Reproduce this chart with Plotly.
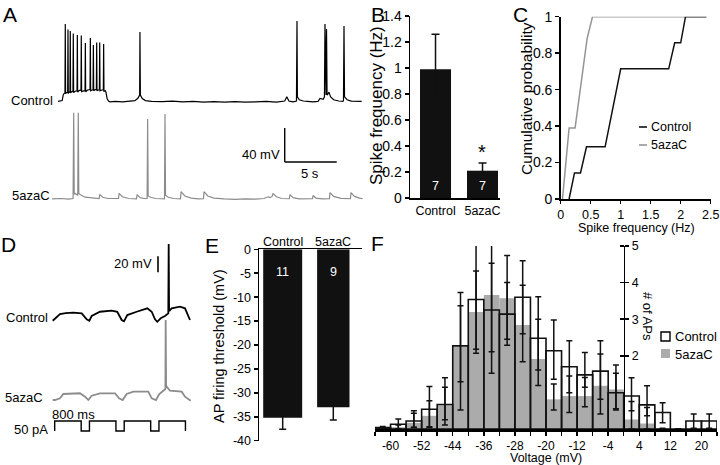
import plotly.graph_objects as go

FONT = "Liberation Sans, Arial, sans-serif"
W, H = 720, 465
GRAY_TRACE = "#8c8c8c"
GRAY_BAR = "#ababab"

# ---------------- Panel A : spontaneous firing traces (time s, membrane potential mV) ----------------
A_CONTROL = [
    (0.00, -65.5), (0.20, -65.0), (0.40, -64.5), (0.52, -57.0), (0.62, -55.6),
    (0.67, -55.6), (0.70, 25.6), (0.73, -56.5), (0.80, -55.0),
    (0.93, -54.8), (0.96, 19.1), (0.99, -56.0), (1.08, -54.5),
    (1.15, -54.4), (1.18, 17.4), (1.21, -55.5), (1.33, -54.0),
    (1.44, -53.8), (1.47, 14.4), (1.50, -55.0), (1.66, -53.5),
    (1.83, -53.0), (1.86, 12.6), (1.89, -54.5), (2.05, -52.5),
    (2.21, -52.5), (2.24, 12.1), (2.27, -54.0), (2.45, -53.0),
    (2.60, -52.8), (2.63, 3.2), (2.66, -54.0), (2.85, -52.0),
    (3.08, -51.5), (3.11, 9.1), (3.14, -53.0), (3.28, -52.0),
    (3.37, -51.8), (3.40, 0.9), (3.43, -53.0), (3.58, -51.5),
    (3.69, -51.5), (3.72, 3.8), (3.75, -53.0), (3.88, -52.0),
    (3.98, -51.5), (4.01, 3.8), (4.04, -53.0), (4.22, -52.0),
    (4.36, -52.0), (4.39, 2.1), (4.42, -53.5), (4.55, -53.0),
    (4.62, -55.0), (4.72, -62.0), (4.85, -65.0), (5.00, -66.0),
    (5.5, -65.5), (6.2, -66.0), (6.8, -65.3), (7.4, -64.5), (7.7, -61.5), (7.85, -58.0),
    (7.88, 16.2), (7.92, -58.0), (8.1, -62.0), (8.4, -64.5), (9.0, -65.3), (10.0, -65.8),
    (11.0, -65.2), (12.0, -66.0), (13.0, -65.5), (14.0, -66.3), (15.0, -65.7), (16.0, -66.2),
    (17.0, -65.8), (18.0, -66.4), (19.0, -66.0), (20.0, -65.5), (21.0, -66.2),
    (21.8, -65.0), (22.0, -60.0), (22.2, -65.0), (22.6, -66.0),
    (22.93, -65.0), (22.98, 29.1), (23.02, -60.0), (23.2, -63.5), (23.6, -65.0), (24.0, -65.5), (24.5, -66.0),
    (25.0, -65.5), (25.2, -62.0), (25.5, -63.0), (25.62, -60.0), (25.67, 25.6), (25.72, -58.0),
    (25.77, -58.0), (25.82, 19.7), (25.87, -58.0), (25.95, -57.0), (26.06, -54.5), (26.2, -60.0),
    (26.5, -63.5), (27.0, -65.0), (27.4, -65.5),
    (27.45, -64.0), (27.5, 23.2), (27.55, -60.0), (27.8, -63.5), (28.2, -65.0), (28.7, -65.5), (29.2, -65.3),
]
A_5AZAC = [
    (-0.58, -65.5), (0.3, -65.0), (1.0, -65.8), (1.45, -65.0), (1.51, 35.9), (1.56, -60.0), (1.62, -59.0),
    (1.9, -61.0), (1.95, 35.9), (2.0, -59.0), (2.2, -61.0), (2.6, -63.5), (3.2, -64.5), (3.95, -65.0),
    (4.04, -60.5), (4.3, -63.5), (4.8, -65.0), (5.4, -65.5), (5.82, -65.0), (5.87, -59.0), (6.2, -63.0),
    (6.8, -65.0), (7.55, -65.5), (7.6, -60.5), (7.9, -64.0), (8.3, -65.0), (8.57, -65.0), (8.62, 28.5),
    (8.67, -62.0), (8.9, -63.5), (9.4, -65.0), (10.24, -65.5), (10.29, 34.4), (10.34, -61.0), (10.6, -63.5),
    (11.1, -65.0), (11.78, -65.5), (11.83, -57.0), (12.2, -62.0), (12.8, -64.5), (13.5, -65.5),
    (13.99, -65.2), (14.04, -57.0), (14.4, -62.0), (15.0, -64.5), (16.0, -65.5), (17.0, -66.0),
    (18.0, -65.5), (19.0, -65.8), (19.8, -65.0), (20.2, -63.0), (20.4, -64.0), (20.62, -62.0),
    (20.67, -59.0), (21.0, -63.0), (21.5, -65.0), (22.25, -65.3), (22.3, -60.5), (22.6, -64.0),
    (23.2, -65.5), (24.0, -65.0), (24.47, -65.3), (24.52, -61.5), (24.8, -64.5), (25.4, -65.5),
    (26.1, -65.2), (26.15, -58.0), (26.5, -62.5), (27.2, -64.8), (28.12, -65.3), (28.17, -58.0),
    (28.5, -62.5), (29.0, -64.5), (29.3, -65.3),
]

# ---------------- Panel B : spike frequency ----------------
B_GROUPS = ["Control", "5azaC"]
B_MEAN = [0.99, 0.21]
B_SEM = [0.27, 0.06]
B_N = ["7", "7"]

# ---------------- Panel C : cumulative probability ----------------
C_CTRL_X = [0.14, 0.23, 0.33, 0.43, 0.74, 1.00, 1.80, 1.90, 2.00, 2.08, 2.43]
C_CTRL_Y = [0, 0.143, 0.143, 0.286, 0.286, 0.714, 0.714, 0.857, 0.857, 1.0, 1.0]
C_AZA_X = [0.03, 0.14, 0.24, 0.44, 0.53, 2.07]
C_AZA_Y = [0, 0.39, 0.39, 0.88, 1.0, 1.0]
C_X_TICKS = [0, 0.5, 1, 1.5, 2, 2.5]

# ---------------- Panel D : responses to current steps (time ms, mV / pA) ----------------
D_CONTROL = [
    (-60, -74.0), (9, -71.0), (160, -65.6), (330, -64.6), (562, -64.0), (816, -64.8), (967, -72.3),
    (1045, -74.0), (1118, -68.1), (1369, -62.8), (1550, -62.2), (1722, -61.5), (1891, -62.8),
    (2024, -73.1), (2094, -74.8), (2193, -66.9), (2477, -62.8), (2650, -60.5), (2798, -58.5),
    (2931, -62.8), (3030, -72.3), (3100, -75.3), (3202, -71.0), (3332, -68.1), (3432, -64.8),
    (3444, 21.9), (3456, -61.9), (3535, -58.5), (3785, -56.5), (3937, -58.5), (4036, -66.9), (4088, -73.1),
]
D_5AZAC = [
    (-60, -72.5), (9, -72.5), (160, -70.4), (260, -65.0), (764, -64.1), (915, -68.4), (1015, -72.5),
    (1118, -67.1), (1369, -64.1), (1822, -64.1), (1943, -70.4), (2054, -72.5), (2175, -65.0),
    (2375, -62.1), (2828, -62.1), (2931, -70.4), (3060, -72.5), (3160, -65.0), (3281, -60.9),
    (3344, -58.8), (3353, 27.5), (3366, -56.3), (3384, -55.9), (3483, -60.9), (3837, -62.1),
    (3937, -68.4), (4109, -73.4),
]
D_STEP_T = [0, 0, 800, 800, 1050, 1050, 1850, 1850, 2100, 2100, 2900, 2900, 3150, 3150, 3950, 3950]
D_STEP_I = [-50, 0, 0, -50, -50, 0, 0, -50, -50, 0, 0, -50, -50, 0, 0, -50]

# ---------------- Panel E : AP firing threshold ----------------
E_GROUPS = ["Control", "5azaC"]
E_MEAN = [-35.2, -33.0]
E_SEM = [2.4, 2.7]
E_N = ["11", "9"]
E_TICKS = [0, -5, -10, -15, -20, -25, -30, -35, -40]

# ---------------- Panel F : histogram of AP voltages ----------------
F_BIN_CENTERS = [-62, -58, -54, -50, -46, -42, -38, -34, -30, -26, -22, -18, -14, -10, -6, -2, 2, 6, 10, 14, 18, 22]
F_CTRL = [0.04, 0.13, 0.22, 0.54, 0.67, 2.27, 3.54, 3.25, 3.14, 3.60, 2.48, 2.14, 1.70, 1.48, 1.58, 0.99, 0.90, 0.66, 0.45, 0.0, 0.22, 0.22]
F_CTRL_UP = [0.03, 0.14, 0.28, 0.62, 0.73, 1.46, 1.50, 1.78, 1.60, 1.00, 1.13, 0.84, 0.71, 0.61, 0.83, 0.76, 0.50, 0.52, 0.27, 0.0, 0.19, 0.19]
F_CTRL_DN = [0.03, 0.12, 0.18, 0.50, 0.56, 0.98, 1.47, 1.73, 0.85, 1.00, 1.29, 0.78, 0.71, 0.34, 0.77, 0.47, 0.40, 0.30, 0.28, 0.0, 0.20, 0.20]
F_AZA = [0.03, 0.05, 0.17, 0.36, 0.65, 2.25, 3.20, 3.66, 3.57, 2.84, 1.91, 0.81, 0.90, 0.90, 1.18, 1.08, 0.26, 0.15, 0.02, 0.0, 0.0, 0.0]
F_AZA_UP = [0.0, 0.06, 0.26, 0.41, 0.49, 1.12, 1.12, 0.87, 0.43, 1.09, 1.09, 0.42, 0.55, 0.51, 0.87, 0.44, 0.49, 0.44, 0.0, 0.0, 0.0, 0.0]
F_AZA_DN = [0.0, 0.05, 0.12, 0.30, 0.40, 1.73, 1.02, 1.55, 1.12, 1.00, 0.30, 0.29, 0.45, 0.29, 0.77, 0.53, 0.26, 0.15, 0.0, 0.0, 0.0, 0.0]
F_TICKS = list(range(-64, 25, 4))
F_LABELED = [-60, -52, -44, -36, -28, -20, -12, -4, 4, 12, 20]
F_Y_TICKS = [2, 3, 4, 5]


def fx(p):
    return p / W


def fy(p):
    return 1 - p / H


def xdom(a, b):
    return [fx(a), fx(b)]


def ydom(top, bottom):
    return [fy(bottom), fy(top)]


def hidden(domain, rng, anchor):
    return dict(domain=domain, range=rng, visible=False, anchor=anchor, fixedrange=True, automargin=False)


def shown(domain, rng, anchor, size=13, **kw):
    d = dict(domain=domain, range=rng, anchor=anchor, showgrid=False, zeroline=False, automargin=False,
             showline=True, linecolor="black", linewidth=1.5, ticks="outside", ticklen=4, fixedrange=True,
             tickwidth=1.5, tickcolor="black", tickfont=dict(size=size, family=FONT, color="black"))
    d.update(kw)
    return d


fig = go.Figure()
line_black = dict(color="black", width=1.2)
line_gray = dict(color=GRAY_TRACE, width=1.2)

# A
fig.add_trace(go.Scatter(x=[p[0] for p in A_CONTROL], y=[p[1] for p in A_CONTROL], mode="lines",
                         line=line_black, xaxis="x", yaxis="y"))
fig.add_trace(go.Scatter(x=[p[0] for p in A_5AZAC], y=[p[1] for p in A_5AZAC], mode="lines",
                         line=line_gray, xaxis="x2", yaxis="y2"))
# B
fig.add_trace(go.Bar(x=B_GROUPS, y=B_MEAN, width=0.66, marker=dict(color="#111111", line=dict(width=0)),
                     error_y=dict(type="data", array=B_SEM, color="#111111", thickness=1.5, width=4),
                     xaxis="x3", yaxis="y3"))
# C
fig.add_trace(go.Scatter(x=C_AZA_X, y=C_AZA_Y, mode="lines", line=dict(color="#959595", width=1.5),
                         xaxis="x4", yaxis="y4"))
fig.add_trace(go.Scatter(x=C_CTRL_X, y=C_CTRL_Y, mode="lines", line=dict(color="#111111", width=1.5),
                         xaxis="x4", yaxis="y4"))
# D
fig.add_trace(go.Scatter(x=[p[0] for p in D_CONTROL], y=[p[1] for p in D_CONTROL], mode="lines",
                         line=dict(color="black", width=1.8), xaxis="x5", yaxis="y5"))
fig.add_trace(go.Scatter(x=[p[0] for p in D_5AZAC], y=[p[1] for p in D_5AZAC], mode="lines",
                         line=dict(color=GRAY_TRACE, width=1.8), xaxis="x6", yaxis="y6"))
fig.add_trace(go.Scatter(x=D_STEP_T, y=D_STEP_I, mode="lines", line=dict(color="black", width=1.4),
                         xaxis="x7", yaxis="y7"))
# E
fig.add_trace(go.Bar(x=E_GROUPS, y=E_MEAN, width=[0.77, 0.64], marker=dict(color="#111111", line=dict(width=0)),
                     error_y=dict(type="data", array=E_SEM, color="#111111", thickness=1.5, width=3.5),
                     xaxis="x8", yaxis="y8"))
# F
fig.add_trace(go.Bar(x=F_BIN_CENTERS, y=F_AZA, width=4, marker=dict(color=GRAY_BAR, line=dict(width=0)),
                     error_y=dict(type="data", symmetric=False, array=F_AZA_UP, arrayminus=F_AZA_DN,
                                  color="#111111", thickness=1.5, width=3),
                     xaxis="x9", yaxis="y9"))
fig.add_trace(go.Bar(x=F_BIN_CENTERS, y=F_CTRL, width=4,
                     marker=dict(color="rgba(0,0,0,0)", line=dict(color="#111111", width=1.6)),
                     error_y=dict(type="data", symmetric=False, array=F_CTRL_UP, arrayminus=F_CTRL_DN,
                                  color="#111111", thickness=1.5, width=3),
                     xaxis="x9", yaxis="y9"))
fig.add_trace(go.Scatter(x=[None], y=[None], mode="lines", xaxis="x9", yaxis="y10", hoverinfo="skip"))

layout = dict(
    template="none",
    width=W, height=H, margin=dict(l=0, r=0, t=0, b=0, pad=0), autosize=False,
    paper_bgcolor="white", plot_bgcolor="rgba(0,0,0,0)", showlegend=False,
    font=dict(family=FONT, size=12, color="black"), barmode="overlay", hovermode=False,
    # A
    xaxis=hidden(xdom(50, 370), [-0.769, 30.0], "y"),
    yaxis=hidden(ydom(15, 108), [-73.2, 36.2], "x"),
    xaxis2=hidden(xdom(50, 370), [-0.769, 30.0], "y2"),
    yaxis2=hidden(ydom(105, 205), [-72.65, 45.0], "x2"),
    # B
    xaxis3=shown(xdom(410, 500), [-0.543, 1.372], "y3", size=12.5, type="category", ticks=""),
    yaxis3=shown(ydom(16, 198), [0, 1.4], "x3", size=14, dtick=0.2),
    # C
    xaxis4=shown(xdom(560.7, 710.7), [0, 2.5], "y4", size=12.5, tickvals=C_X_TICKS,
                 ticktext=[f"{v:g}" for v in C_X_TICKS], ticklen=3, tickangle=0,
                 ticklabeloverflow="allow"),
    yaxis4=shown(ydom(16.7, 199), [0, 1], "x4", size=14, dtick=0.2),
    # D
    xaxis5=hidden(xdom(40, 200), [-444, 4390], "y5"),
    yaxis5=hidden(ydom(235, 330), [-85.6, 33.1], "x5"),
    xaxis6=hidden(xdom(40, 200), [-444, 4390], "y6"),
    yaxis6=hidden(ydom(310, 410), [-85, 40], "x6"),
    xaxis7=hidden(xdom(40, 200), [-444, 4390], "y7"),
    yaxis7=hidden(ydom(405, 440), [-95, 80], "x7"),
    # E
    xaxis8=shown(xdom(259, 362), [-0.468, 1.567], "y8", type="category", ticks="", side="top",
                 showticklabels=False),
    yaxis8=shown(ydom(249.3, 440.7), [-40, 0], "x8", size=12.5, tickvals=E_TICKS,
                 ticktext=[str(v) for v in E_TICKS]),
    # F
    xaxis9=shown(xdom(375, 717), [-64, 24], "y9", size=12, linewidth=2.5, tickvals=F_TICKS,
                 ticktext=[str(v) if v in F_LABELED else "" for v in F_TICKS], tickangle=0),
    yaxis9=shown(ydom(246, 429), [0, 5], "free", size=12.5, position=fx(623.7), side="right",
                 tickvals=F_Y_TICKS, ticktext=[str(v) for v in F_Y_TICKS]),
    yaxis10=shown(ydom(246, 429), [0, 5], "free", position=fx(623.7), side="left", overlaying="y9",
                  showline=False, showticklabels=False, tickvals=F_Y_TICKS),
)
fig.update_layout(**layout)


def ann(text, px, py, size=13, xanchor="center", yanchor="middle", angle=0, color="black"):
    return dict(text=text, x=fx(px), y=fy(py), xref="paper", yref="paper", showarrow=False,
                xanchor=xanchor, yanchor=yanchor, textangle=angle, borderpad=0,
                font=dict(size=size, color=color, family=FONT))


annotations = [
    # panel letters
    ann("A", 10, 15, size=21), ann("B", 378, 14, size=21), ann("C", 520, 14, size=21),
    ann("D", 8, 244, size=21), ann("E", 212, 245, size=21), ann("F", 377, 243, size=21),
    # A labels
    ann("Control", 54, 100, xanchor="right"), ann("5azaC", 51, 195, xanchor="right"),
    ann("40 mV", 281, 154, xanchor="right"), ann("5 s", 310, 173),
    # B
    ann("Spike frequency (Hz)", 376, 106, size=17, angle=-90),
    ann("*", 482.5, 152, size=20),
    # C
    ann("Cumulative probability", 526, 99, size=15.5, angle=-90),
    ann("Spike frequency (Hz)", 636, 227.5, size=12.5),
    ann("Control", 650, 127, size=12.5, xanchor="left"), ann("5azaC", 650, 145, size=12.5, xanchor="left"),
    # D
    ann("Control", 49, 317, xanchor="right"), ann("5azaC", 44, 397, xanchor="right"),
    ann("20 mV", 153, 263, xanchor="right"), ann("800 ms", 51, 414, xanchor="left"),
    ann("50 pA", 49, 429, xanchor="right"),
    # E
    ann("AP firing threshold (mV)", 219, 346, size=14.5, angle=-90),
    # F
    ann("Voltage (mV)", 546, 457.5, size=12.5),
    ann("# of APs", 648, 316, angle=90),
    ann("Control", 674, 336, xanchor="left"), ann("5azaC", 674, 354, xanchor="left"),
]
for g, n in zip(B_GROUPS, B_N):
    annotations.append(dict(text=n, x=g, y=0.09, xref="x3", yref="y3", showarrow=False,
                            font=dict(size=12.5, color="white", family=FONT)))
for g, n in zip(E_GROUPS, E_N):
    annotations.append(dict(text=n, x=g, y=-4.8, xref="x8", yref="y8", showarrow=False,
                            font=dict(size=12.5, color="white", family=FONT)))
    annotations.append(dict(text=g, x=g, y=fy(242), xref="x8", yref="paper", showarrow=False,
                            yanchor="middle", font=dict(size=12.5, color="black", family=FONT)))

shapes = [
    # A scale bar (40 mV, 5 s)
    dict(type="line", xref="x2", yref="y2", x0=21.8, x1=21.8, y0=-22.06, y1=17.94, line=dict(color="black", width=1.4)),
    dict(type="line", xref="x2", yref="y2", x0=21.8, x1=26.8, y0=-22.06, y1=-22.06, line=dict(color="black", width=1.4)),
    # D scale bar (20 mV)
    dict(type="line", xref="x5", yref="y5", x0=3121, x1=3121, y0=-13.5, y1=6.5, line=dict(color="black", width=1.6)),
    # C legend
    dict(type="line", xref="paper", yref="paper", x0=fx(639), x1=fx(647), y0=fy(127), y1=fy(127), line=dict(color="#111111", width=1.6)),
    dict(type="line", xref="paper", yref="paper", x0=fx(639), x1=fx(647), y0=fy(145), y1=fy(145), line=dict(color="#959595", width=1.6)),
    # F legend
    dict(type="rect", xref="paper", yref="paper", x0=fx(661), x1=fx(670), y0=fy(341), y1=fy(332), line=dict(color="black", width=1.4), fillcolor="white"),
    dict(type="rect", xref="paper", yref="paper", x0=fx(661), x1=fx(670), y0=fy(358), y1=fy(349), line=dict(width=0), fillcolor=GRAY_BAR),
]
fig.update_layout(annotations=annotations, shapes=shapes)

fig.write_html("out.html", config={"displayModeBar": False, "staticPlot": True},
               post_script="document.body.style.margin='0';document.body.style.overflow='hidden';")
